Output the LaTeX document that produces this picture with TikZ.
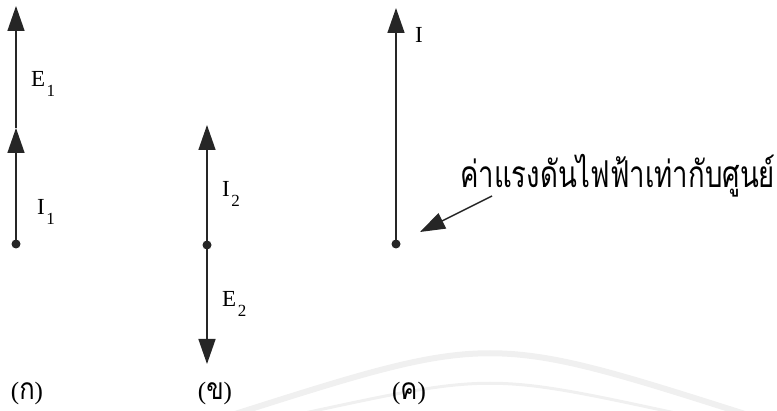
\documentclass[tikz,border=0pt]{standalone}
\usepackage{fontspec}
\setmainfont{Liberation Serif}
\newfontfamily\thaifont[Script=Thai]{Loma}
\usetikzlibrary{arrows.meta}
\newcommand\lsub[2]{#1\kern1.5pt\raisebox{-10pt}{\fontsize{17}{17}\selectfont #2}}
\newcommand\thcap[1]{{\fontsize{25}{25}\selectfont(}{\thaifont\fontsize{30}{30}\selectfont\scalebox{0.85}[1]{#1}}{\fontsize{25}{25}\selectfont)}}
\begin{document}
\begin{tikzpicture}[x=1pt,y=-1pt,
  vec/.style={line width=1.5pt, draw=black!85, -{Triangle[length=25pt,width=17pt]}},
  dotn/.style={circle, fill=black!85, inner sep=0pt, minimum size=9pt},
  lab/.style={font=\fontsize{23}{23}\selectfont, inner sep=0pt, anchor=base west},
  thai/.style={font=\thaifont\fontsize{37}{37}\selectfont, inner sep=0pt, anchor=base west},
  capn/.style={inner sep=0pt, anchor=center},
  wm/.style={draw=gray!12}
]
\useasboundingbox (0,0) rectangle (777,411);
% watermark arcs
\draw[wm, line width=6pt] (235,414) .. controls (490,333) .. (745,414);
\draw[wm, line width=3pt] (300,414) .. controls (490,373) .. (680,414);

% (a)
\node[dotn] (d1) at (16,244) {};
\coordinate (m1) at (16,128);
\coordinate (t1) at (16,6);
\draw[vec] (d1.center) -- (m1);
\draw[vec] (m1) -- (t1);
\node[lab] (e1) at (31,87) {\lsub{E}{1}};
\node[lab] (i1) at (37,215) {\lsub{I}{1}};

% (b)
\node[dotn] (d2) at (207,245) {};
\coordinate (t2) at (207,125);
\coordinate (b2) at (207,364);
\draw[vec] (d2.center) -- (t2);
\draw[vec] (d2.center) -- (b2);
\node[lab] (i2) at (222,197) {\lsub{I}{2}};
\node[lab] (e2) at (222,307) {\lsub{E}{2}};

% (c)
\node[dotn] (d3) at (396,244) {};
\coordinate (t3) at (396,8);
\draw[vec] (d3.center) -- (t3);
\node[lab] (i3) at (415,43) {I};
\node[thai] (note) at (460,188) {\scalebox{0.745}[1]{ค่าแรงดันไฟฟ้าเท่ากับศูนย์}};
\coordinate (p0) at (492,196);
\coordinate (p1) at (420,232);
\draw[vec] (p0) -- (p1);

% captions
\node[capn] (ca) at (27,393) {\thcap{ก}};
\node[capn] (cb) at (215,393) {\thcap{ข}};
\node[capn] (cc) at (409,393) {\thcap{ค}};
\end{tikzpicture}
\end{document}
